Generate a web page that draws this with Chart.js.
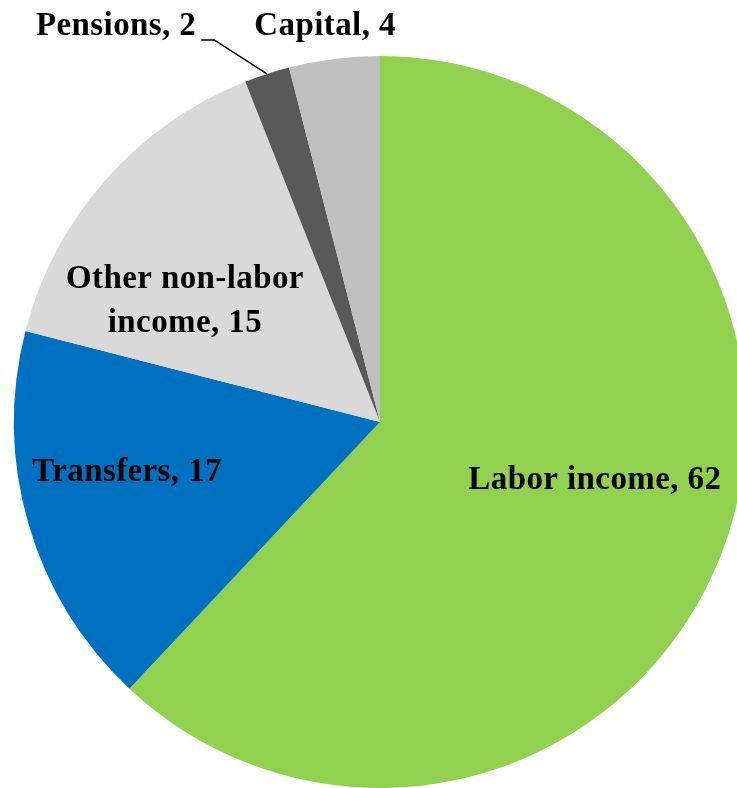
<!DOCTYPE html>
<html>
<head>
<meta charset="utf-8">
<script src="https://cdn.jsdelivr.net/npm/chart.js@4"></script>
<style>
  html, body { margin: 0; padding: 0; background: #fff; overflow: hidden; }
  #wrap { width: 760px; height: 788px; position: relative; }
</style>
</head>
<body>
<div id="wrap"><canvas id="pieChart"></canvas></div>
<script>
// Datos del gráfico
const categorias = ['Labor income', 'Transfers', 'Other non-labor income', 'Pensions', 'Capital'];
const valores = [62, 17, 15, 2, 4];
const colores = ['#92D050', '#0070C0', '#D9D9D9', '#595959', '#BFBFBF'];

// Etiquetas: lineas de texto, posicion relativa al centro (en fracciones del radio)
const etiquetas = [
    { lineas: ['Labor income, 62'], fx: 0.587, fy: 0.161 },
    { lineas: ['Transfers, 17'], fx: -0.691, fy: 0.137 },
    { lineas: ['Other non-labor', 'income, 15'], fx: -0.533, fy: -0.328 },
    { lineas: ['Pensions, 2'], fx: -0.721, fy: -1.082, guia: true },
    { lineas: ['Capital, 4'], fx: -0.150, fy: -1.082 }
];

const pluginEtiquetas = {
    id: 'etiquetas',
    afterDatasetsDraw(chart) {
        const ctx = chart.ctx;
        const meta = chart.getDatasetMeta(0);
        ctx.save();
        ctx.font = 'bold 33px "Liberation Serif"';
        ctx.letterSpacing = '0.4px';
        ctx.fillStyle = '#000';
        ctx.textAlign = 'center';
        ctx.textBaseline = 'middle';
        meta.data.forEach((arc, i) => {
            const et = etiquetas[i];
            const r = arc.outerRadius;
            const x = arc.x + et.fx * r;
            const y = arc.y + et.fy * r;
            const alto = 44;
            const y0 = y - (et.lineas.length - 1) * alto / 2;
            et.lineas.forEach((l, k) => ctx.fillText(l, x, y0 + k * alto));

            if (et.guia) {
                // linea guia hacia el borde del sector
                const medio = (arc.startAngle + arc.endAngle) / 2;
                const ex = arc.x + Math.cos(medio) * r;
                const ey = arc.y + Math.sin(medio) * r;
                const w = ctx.measureText(et.lineas[0]).width;
                const sx = x + w / 2 + 5;
                const sy = y + 14;
                ctx.beginPath();
                ctx.strokeStyle = '#000';
                ctx.lineWidth = 1.5;
                ctx.moveTo(sx, sy);
                ctx.lineTo(sx + 13, sy);
                ctx.lineTo(ex, ey);
                ctx.stroke();
            }
        });
        ctx.restore();
    }
};

new Chart(document.getElementById('pieChart'), {
    type: 'pie',
    data: {
        labels: categorias,
        datasets: [{
            data: valores,
            backgroundColor: colores,
            borderWidth: 0
        }]
    },
    options: {
        responsive: true,
        maintainAspectRatio: false,
        animation: false,
        layout: { padding: { left: 14, right: 14, top: 56, bottom: 0 } },
        plugins: {
            legend: { display: false },
            tooltip: { enabled: false }
        }
    },
    plugins: [pluginEtiquetas]
});
</script>
</body>
</html>
